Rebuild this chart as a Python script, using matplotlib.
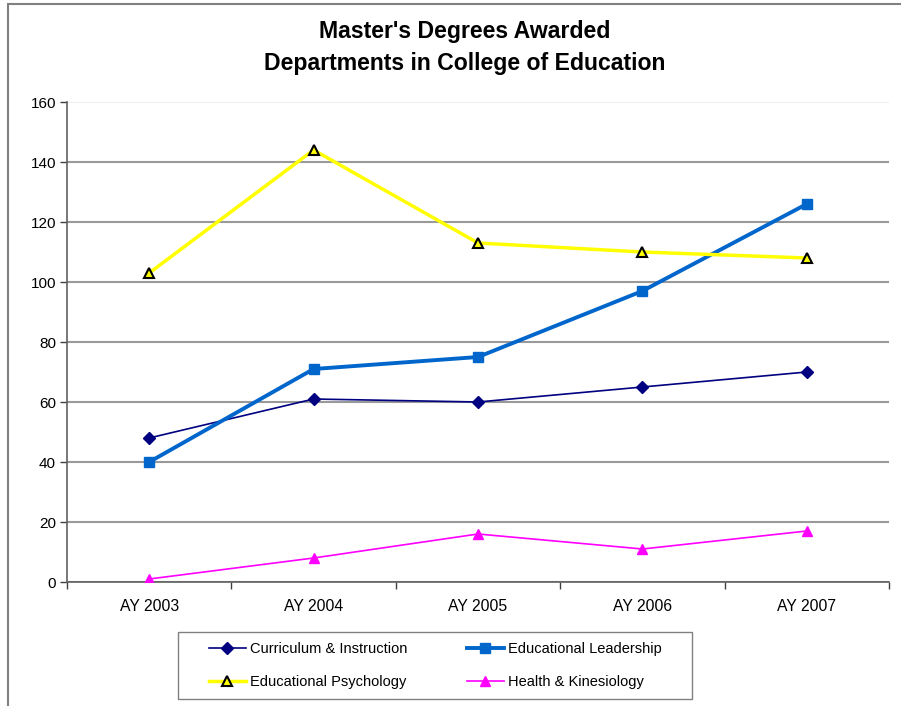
import matplotlib.pyplot as plt
from matplotlib.patches import Rectangle

plt.rcParams['font.family'] = ['Liberation Sans', 'DejaVu Sans']

years = ['AY 2003', 'AY 2004', 'AY 2005', 'AY 2006', 'AY 2007']
curriculum = [48, 61, 60, 65, 70]
leadership = [40, 71, 75, 97, 126]
psychology = [103, 144, 113, 110, 108]
health = [1, 8, 16, 11, 17]

W, H = 901, 706
fig = plt.figure(figsize=(W / 100, H / 100), dpi=100)
ax = fig.add_axes([67 / W, 1 - 582 / H, (889 - 67) / W, (582 - 102) / H])

# chart area border (Excel style)
fig.patches.append(Rectangle((8 / W, -0.1), 1.2, 1 - 4 / H + 0.1, transform=fig.transFigure,
                             fill=False, edgecolor='#808080', linewidth=1.5))

x = list(range(len(years)))
l1, = ax.plot(x, curriculum, color='#000080', lw=1.2, marker='D', ms=6.5,
              label='Curriculum & Instruction', zorder=3)
l2, = ax.plot(x, leadership, color='#0066CC', lw=2.8, marker='s', ms=7.5,
              label='Educational Leadership', zorder=3)
l3, = ax.plot(x, psychology, color='#FFFF00', lw=2.5, marker='^', ms=7.5, mfc='#FFFF00',
              mec='black', mew=1.5, label='Educational Psychology', zorder=3)
l4, = ax.plot(x, health, color='#FF00FF', lw=1.2, marker='^', ms=7.5,
              label='Health & Kinesiology', zorder=3)

ax.set_xlim(-0.5, 4.5)
ax.set_ylim(0, 160)
ax.set_yticks(range(0, 161, 20))
ax.set_xticks(x)
ax.set_xticklabels(years)
ax.set_xticks([i - 0.5 for i in range(6)], minor=True)
ax.tick_params(axis='x', which='major', length=0, pad=12, labelsize=11.3)
ax.tick_params(axis='x', which='minor', length=5, width=1, color='#404040', direction='out')
ax.tick_params(axis='y', length=5, width=1, color='#404040', labelsize=11, pad=3)

ax.grid(axis='y', color='#999999', lw=1.5)
ax.set_axisbelow(True)
ax.yaxis.get_gridlines()[-1].set_color('#f0f0f0')
for s in ['top', 'right']:
    ax.spines[s].set_visible(False)
for s in ['left', 'bottom']:
    ax.spines[s].set_color('#606060')
    ax.spines[s].set_linewidth(1.2)

fig.text(465 / W, 1 - 47.5 / H, "Master's Degrees Awarded\nDepartments in College of Education",
         ha='center', va='center', fontsize=16.6, fontweight='bold', linespacing=1.5)

# row-wise order like the original legend
leg = fig.legend([l1, l3, l2, l4], [l1.get_label(), l3.get_label(), l2.get_label(), l4.get_label()],
                 loc='center', bbox_to_anchor=(435 / W, 1 - 665.5 / H), ncol=2,
                 fontsize=10.5, frameon=False,
                 handlelength=2.55, columnspacing=4.1, borderpad=0.75, labelspacing=1.3,
                 handletextpad=0.25, borderaxespad=0)
# legend box is wider than its contents in the original
fig.patches.append(Rectangle((178 / W, 1 - 699 / H), (692 - 178) / W, (699 - 632) / H,
                             transform=fig.transFigure, fill=False, edgecolor='#808080',
                             linewidth=1.0))

fig.savefig('out.png', dpi=100)
